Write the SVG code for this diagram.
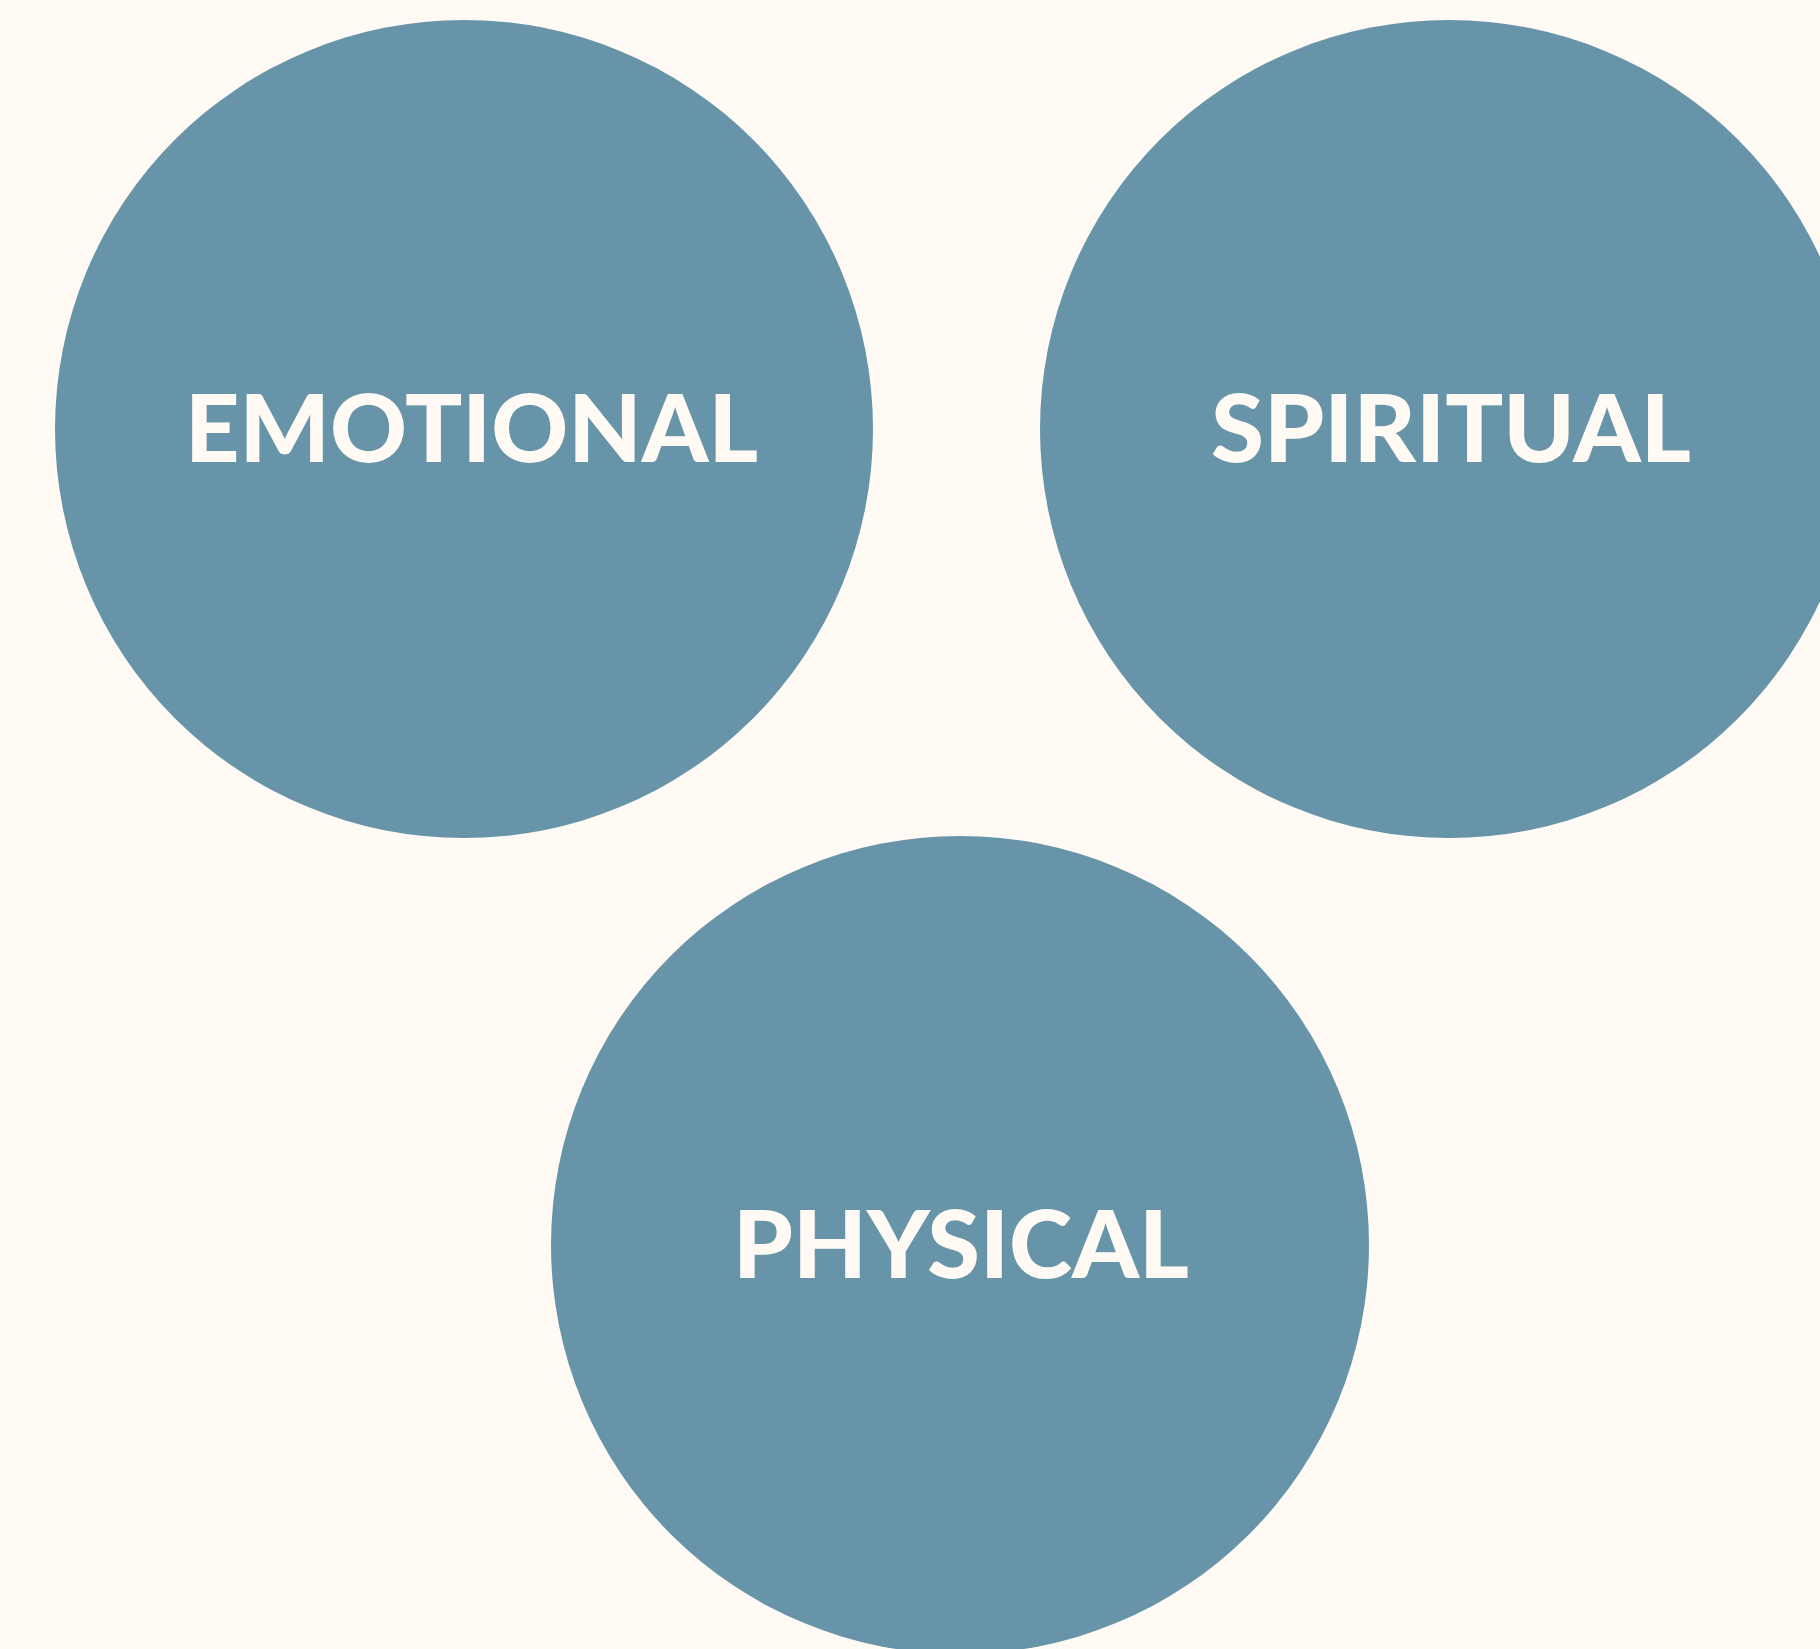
<svg xmlns="http://www.w3.org/2000/svg" width="1820" height="1649" viewBox="0 0 1820 1649">
<style>
.bg{fill:#FFFBF4}
.c{fill:#6794A9}
.t{fill:#FFFBF4;font-family:Lato,"Liberation Sans",sans-serif;font-weight:900;font-size:93px}
</style>
<rect class="bg" x="0" y="0" width="1820" height="1649"/>
<g id="emotional">
<circle class="c" cx="464" cy="429" r="409"/>
<text class="t" x="185" y="462" textLength="573" lengthAdjust="spacingAndGlyphs">EMOTIONAL</text>
</g>
<g id="spiritual">
<circle class="c" cx="1449" cy="429" r="409"/>
<text class="t" x="1211" y="462" textLength="480" lengthAdjust="spacingAndGlyphs">SPIRITUAL</text>
</g>
<g id="physical">
<circle class="c" cx="960" cy="1245" r="409"/>
<text class="t" x="733" y="1278" textLength="456" lengthAdjust="spacingAndGlyphs">PHYSICAL</text>
</g>
<g id="connectors"></g>
</svg>
